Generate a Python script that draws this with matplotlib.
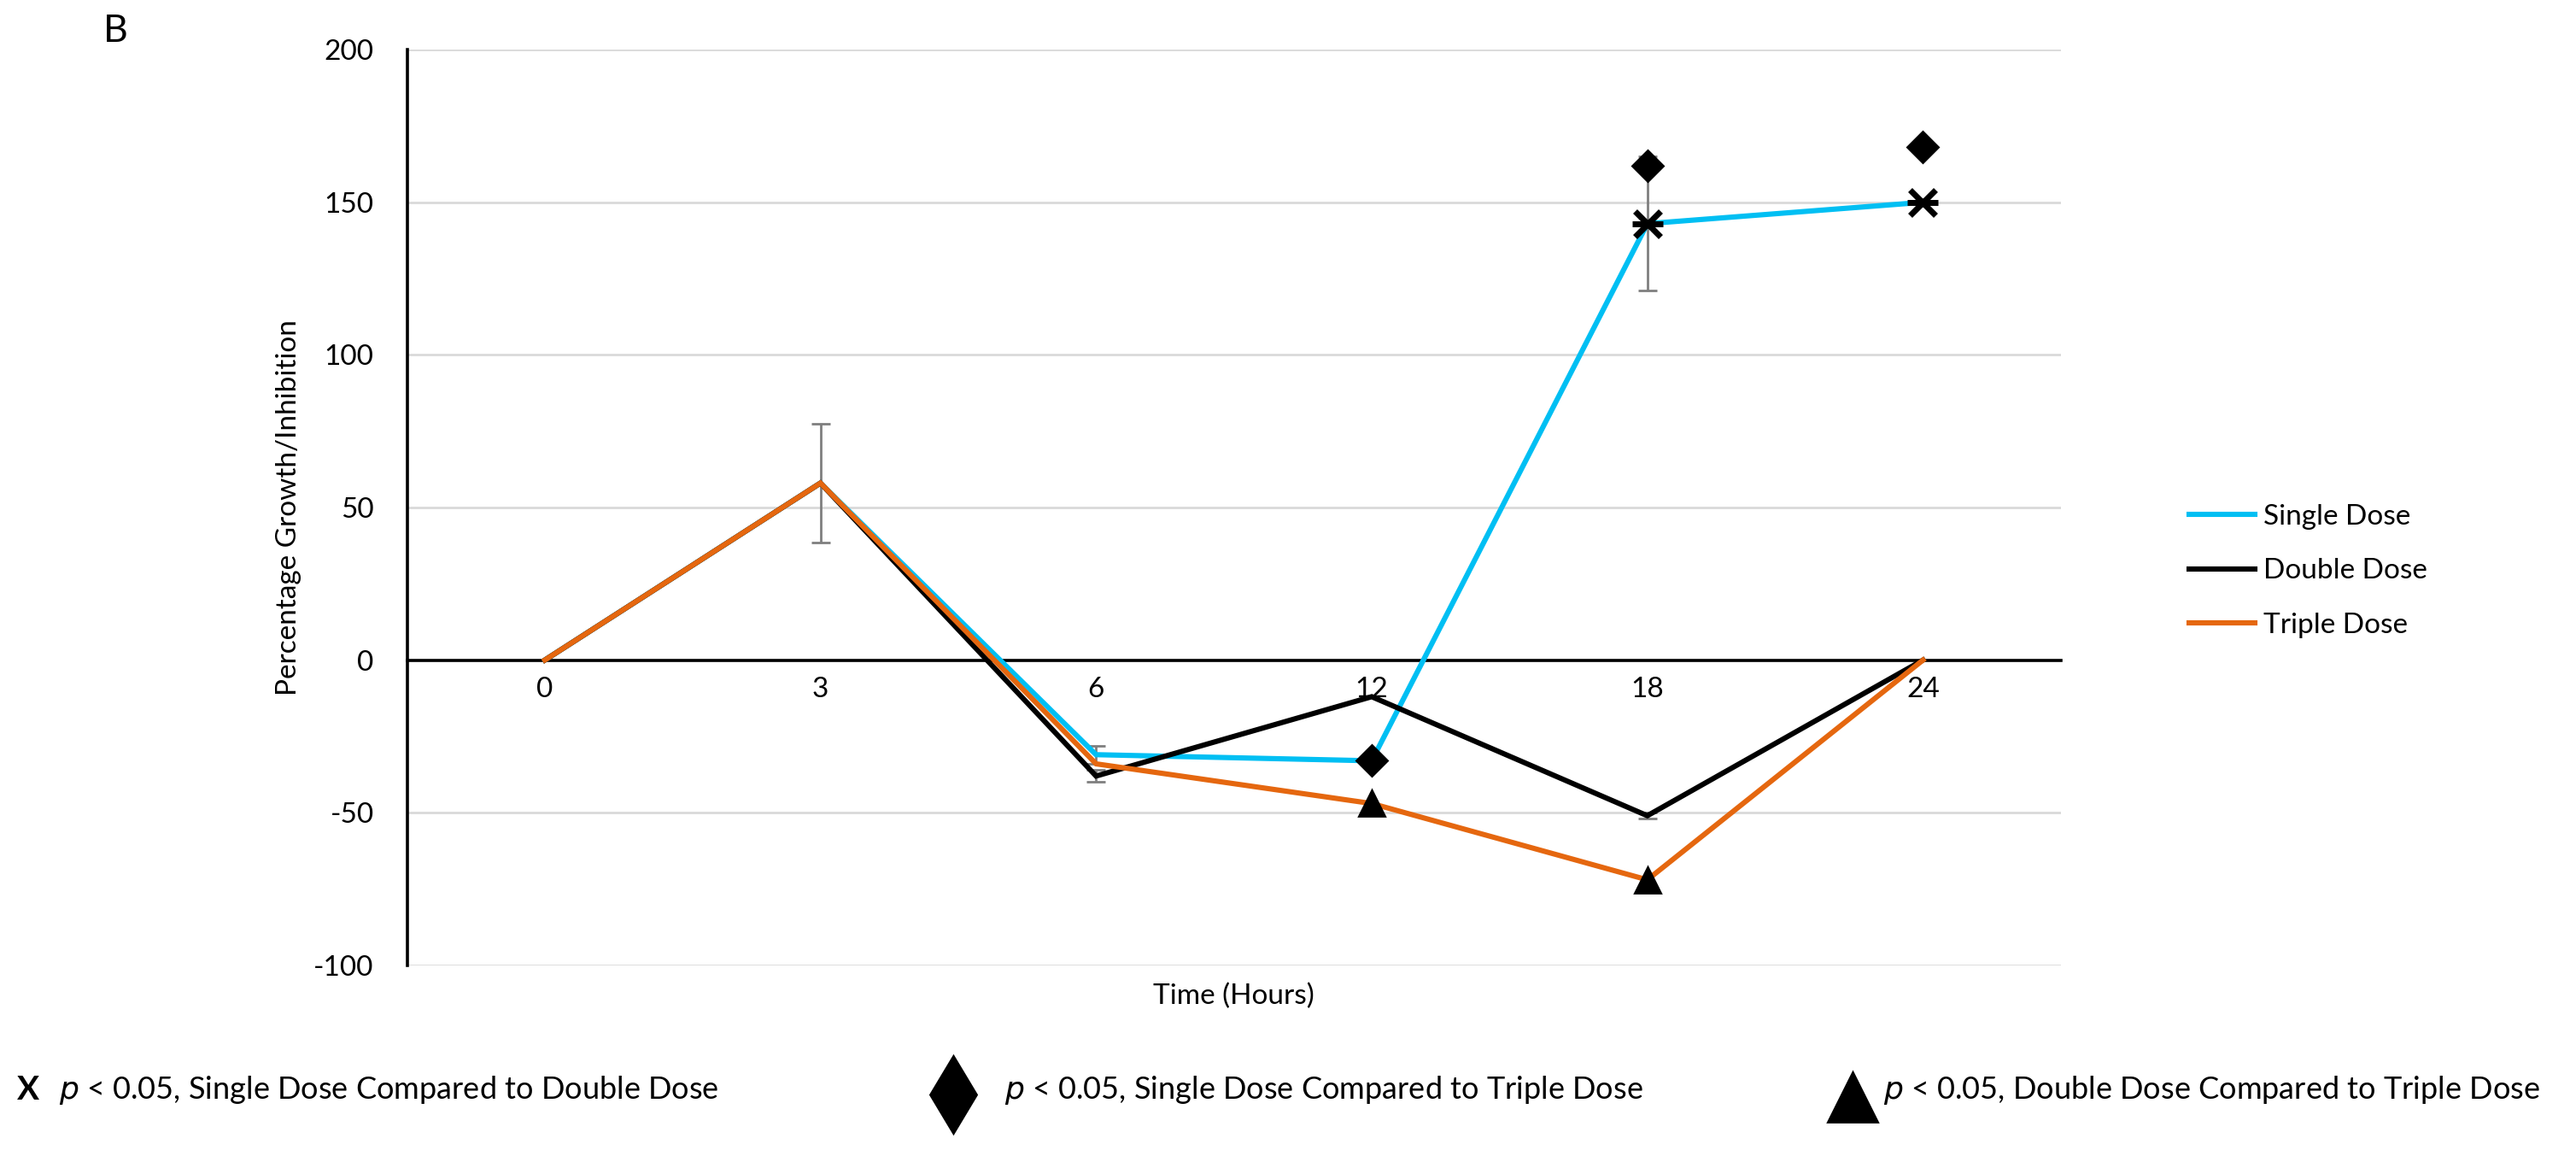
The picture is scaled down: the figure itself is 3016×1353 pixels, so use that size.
import matplotlib.pyplot as plt
import numpy as np

plt.rcParams['font.family'] = ['Lato', 'DejaVu Sans']
plt.rcParams['axes.unicode_minus'] = False

# Data
times = ['0', '3', '6', '12', '18', '24']
single_dose = [0, 58, -31, -33, 143, 150]
double_dose = [0, 58, -38, -12, -51, 0]
triple_dose = [0, 58, -34, -47, -72, 0]
single_err = [0, 19.5, 3, 0, 22, 0]
double_err = [0, 0, 2, 0, 1, 0]
triple_err = [0, 0, 0, 0, 0, 0]

# significance markers (time index, value)
x_mark_idx = [4, 5]
x_mark_val = [143, 150]
diamond_idx = [3, 4, 5]
diamond_val = [-33, 162, 168]
triangle_idx = [3, 4]
triangle_val = [-47, -72]

colors = {'Single Dose': '#00BFF3', 'Double Dose': '#000000', 'Triple Dose': '#E5670F'}

fig = plt.figure(figsize=(15.08, 6.765), dpi=200)
ax = fig.add_axes([0.158, 0.165, 0.642, 0.792])

pos = np.arange(len(times))

# gridlines
ax.set_ylim(-100, 200)
ax.set_xlim(-0.5, len(times) - 0.5)
ax.set_yticks(np.arange(-100, 201, 50))
ax.yaxis.grid(True, color='#D9D9D9', linewidth=1.0)
ax.set_axisbelow(True)

# error bars
for vals, err in [(single_dose, single_err), (double_dose, double_err), (triple_dose, triple_err)]:
    e = np.array(err, dtype=float)
    m = e > 0
    ax.errorbar(pos[m], np.array(vals)[m], yerr=e[m], fmt='none', ecolor='#7F7F7F',
                elinewidth=1.0, capsize=4, capthick=1.0, zorder=2)

for name, vals in [('Single Dose', single_dose), ('Double Dose', double_dose), ('Triple Dose', triple_dose)]:
    ax.plot(pos, vals, color=colors[name], linewidth=2.2, label=name, zorder=3,
            solid_joinstyle='miter')

# significance markers
ax.plot(pos[x_mark_idx], x_mark_val, linestyle='none', marker='x', markersize=11,
        markeredgewidth=2.5, color='black', zorder=5)
ax.plot(pos[x_mark_idx], x_mark_val, linestyle='none', marker='_', markersize=13,
        markeredgewidth=2.5, color='black', zorder=5)
ax.plot(pos[diamond_idx], diamond_val, linestyle='none', marker='D', markersize=9,
        color='black', zorder=5)
ax.plot(pos[triangle_idx], triangle_val, linestyle='none', marker='^', markersize=11,
        color='black', zorder=5)

# axes styling
for s in ['top', 'right']:
    ax.spines[s].set_visible(False)
ax.spines['bottom'].set_position(('data', 0))
ax.spines['bottom'].set_linewidth(1.3)
ax.spines['left'].set_linewidth(1.3)
ax.spines['left'].set_bounds(-100, 200)
ax.set_xticks(pos)
ax.set_xticklabels(times)
ax.tick_params(axis='both', length=0, labelsize=12, colors='black')
ax.tick_params(axis='x', pad=7)
ax.tick_params(axis='y', pad=14)

ax.set_ylabel('Percentage Growth/Inhibition', fontsize=12)
ax.yaxis.set_label_coords(-0.064, 0.5)
ax.text(0.5, -0.034, 'Time (Hours)', transform=ax.transAxes, ha='center', va='center', fontsize=12)

ax.legend(loc='center left', bbox_to_anchor=(0.84, 0.506), bbox_transform=fig.transFigure,
          frameon=False, fontsize=12, handlelength=2.3, handletextpad=0.3, labelspacing=1.0)

fig.text(0.045, 0.973, 'B', fontsize=16, va='center', ha='center')

# footnotes
fax = fig.add_axes([0, 0, 1, 1], facecolor='none')
fax.set_xlim(0, 1)
fax.set_ylim(0, 1)
fax.axis('off')
fy = 0.057
fax.text(0.011, fy, 'X', fontsize=14, fontweight='bold', ha='center', va='center')
fax.text(0.023, fy, r'$\it{p}$ < 0.05, Single Dose Compared to Double Dose', fontsize=13, ha='left', va='center')
fax.plot([0.370], [fy - 0.004], marker='d', markersize=23, color='black', linestyle='none')
fax.text(0.390, fy, r'$\it{p}$ < 0.05, Single Dose Compared to Triple Dose', fontsize=13, ha='left', va='center')
fax.plot([0.719], [fy - 0.006], marker='^', markersize=21, color='black', linestyle='none')
fax.text(0.731, fy, r'$\it{p}$ < 0.05, Double Dose Compared to Triple Dose', fontsize=13, ha='left', va='center')

fig.savefig('out.png', dpi=200, facecolor='white')
